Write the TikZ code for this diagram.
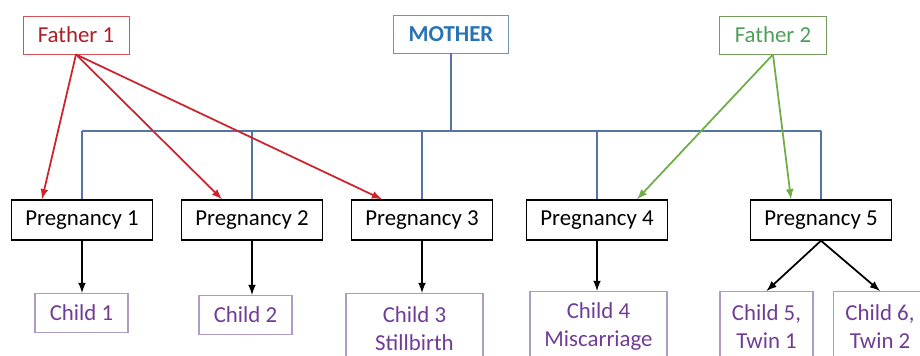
\documentclass[tikz,border=0pt]{standalone}
\usepackage{fontspec}
\setmainfont{Carlito}
\definecolor{fatherred}{RGB}{205,35,45}
\definecolor{fathergreen}{RGB}{112,173,71}
\definecolor{mothertext}{RGB}{40,115,180}
\definecolor{busblue}{RGB}{85,115,165}
\definecolor{childtext}{RGB}{112,60,150}
\definecolor{childline}{RGB}{175,155,195}

\tikzset{
    parentbox/.style={draw, line width=0.5pt, minimum height=7.6mm, inner sep=0pt},
    pregbox/.style={draw=black, line width=0.8pt, minimum width=28.2mm, minimum height=8mm, inner sep=0pt},
    childbox/.style={draw=childline, line width=0.6pt, text=childtext, align=center, anchor=north, inner sep=0pt},
}

\begin{document}
\begin{tikzpicture}[x=0.2mm, y=-0.2mm, >=latex, font=\fontsize{13}{15.6}\selectfont]
            \useasboundingbox (0,0) rectangle (920,356);
            \clip (0,0) rectangle (920,356);
            % ==== PARENTS ====
            \node[parentbox, draw=fatherred!80, text=fatherred!85!black, minimum width=21.2mm] (f1) at (76,35) {Father 1};
            \node[parentbox, draw=busblue!80, text=mothertext, minimum width=23mm, font=\fontsize{13}{15.6}\selectfont\bfseries] (mother) at (451,34) {MOTHER};
            \node[parentbox, draw=fathergreen!60!gray, text=fathergreen!70!teal, minimum width=21.4mm] (f2) at (773,35) {Father 2};
            % ==== PREGNANCIES ====
            \node[pregbox] (p1) at (82,220) {Pregnancy 1};
            \node[pregbox] (p2) at (252,220) {Pregnancy 2};
            \node[pregbox] (p3) at (422,220) {Pregnancy 3};
            \node[pregbox] (p4) at (597,220) {Pregnancy 4};
            \node[pregbox] (p5) at (821,220) {Pregnancy 5};
            % ==== CHILDREN ====
            \node[childbox, minimum width=18.6mm, minimum height=7.8mm] (c1) at (81.5,293) {Child 1};
            \node[childbox, minimum width=18.6mm, minimum height=7.8mm] (c2) at (245.5,295) {Child 2};
            \node[childbox, minimum width=27.4mm, minimum height=14mm] (c3) at (414.5,293) {Child 3\\Stillbirth};
            \node[childbox, minimum width=27.4mm, minimum height=14mm] (c4) at (598.5,291) {Child 4\\Miscarriage};
            \node[childbox, minimum width=18.6mm, minimum height=14mm] (c5) at (766.5,291) {Child 5,\\Twin 1};
            \node[childbox, minimum width=18.6mm, minimum height=14mm] (c6) at (880,291) {Child 6,\\Twin 2};
            % ==== MOTHER LINES ====
            \coordinate (bus) at (452,131);
            \draw[busblue, line width=0.8pt] (mother) -- (mother |- bus);
            \draw[busblue, line width=0.8pt] (p1 |- bus) -- (p5 |- bus);
            \foreach \p in {p1,p2,p3,p4,p5}
                \draw[busblue, line width=0.8pt] (\p |- bus) -- (\p);
            % ==== CHILD ARROWS ====
            \foreach \p/\c in {p1/c1,p2/c2,p3/c3,p4/c4}
                \draw[->, line width=1pt] (\p.south) -- (\p.south |- \c.north);
            \draw[->, line width=1pt] (p5.south) -- (c5.north);
            \draw[->, line width=1pt] (p5.south) -- (c6.north);
            % ==== FATHER ARROWS ====
            \draw[->, fatherred, line width=1pt] (f1.south) -- ([xshift=-8mm]p1.north);
            \draw[->, fatherred, line width=1pt] (f1.south) -- ([xshift=-6mm]p2.north);
            \draw[->, fatherred, line width=1pt] (f1.south) -- ([xshift=-8mm]p3.north);
            \draw[->, fathergreen, line width=1pt] (f2.south) -- ([xshift=8mm]p4.north);
            \draw[->, fathergreen, line width=1pt] (f2.south) -- ([xshift=-6mm]p5.north);
\end{tikzpicture}
\end{document}
